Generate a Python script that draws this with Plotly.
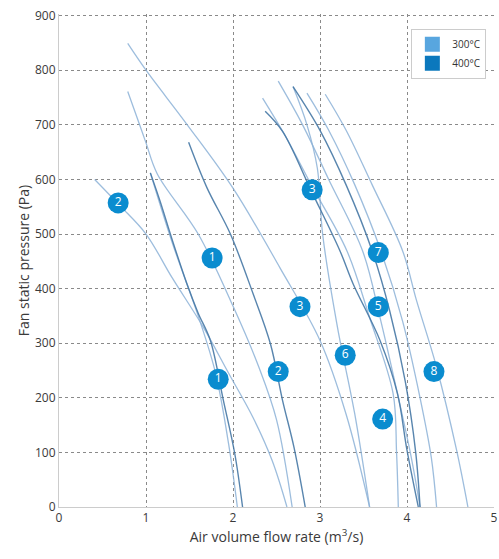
import plotly.graph_objects as go

# ---- data ----
# 300 °C curves (light)
c300_a_x = [0.79, 1.0, 1.47, 2.0, 2.54, 3.0, 3.3, 3.57]
c300_a_y = [849, 800, 701, 584, 438, 305, 170, 0]
c300_b_x = [0.41, 0.7, 1.0, 1.3, 1.66, 1.95, 2.23, 2.45, 2.62]
c300_b_y = [600, 552, 500, 420, 329, 245, 164, 85, 0]
c300_c_x = [0.79, 0.9, 1.0, 1.13, 1.6, 2.0, 2.3, 2.5, 2.68]
c300_c_y = [761, 712, 667, 610, 500, 368, 255, 160, 0]
c300_d_x = [1.05, 1.3, 1.6, 1.8, 1.95, 2.05]
c300_d_y = [612, 485, 350, 245, 115, 0]
c300_e_x = [2.34, 2.6, 2.9, 3.31, 3.57, 3.84, 3.88, 3.9]
c300_e_y = [749, 680, 590, 469, 347, 208, 100, 0]
c300_f_x = [2.52, 2.8, 3.1, 3.49, 3.69, 3.89, 4.05, 4.15]
c300_f_y = [780, 700, 600, 469, 347, 208, 90, 0]
c300_g_x = [2.69, 2.85, 2.97, 3.03, 3.2, 3.4, 3.57]
c300_g_y = [770, 700, 620, 500, 330, 170, 0]
c300_h_x = [2.85, 3.1, 3.4, 3.7, 3.95, 4.15, 4.28, 4.34]
c300_h_y = [758, 690, 590, 469, 340, 200, 90, 0]
c300_i_x = [3.06, 3.3, 3.6, 3.95, 4.11, 4.34, 4.57, 4.7]
c300_i_y = [756, 690, 590, 469, 378, 256, 104, 0]

# 400 °C curves (dark)
c400_a_x = [1.05, 1.16, 1.3, 1.47, 1.6, 1.74, 1.89, 2.02, 2.11]
c400_a_y = [612, 561, 490, 409, 355, 305, 195, 98, 0]
c400_b_x = [1.49, 1.7, 1.97, 2.23, 2.43, 2.57, 2.7, 2.83]
c400_b_y = [668, 585, 500, 391, 299, 195, 110, 0]
c400_c_x = [2.37, 2.57, 2.9, 3.23, 3.38, 3.69, 3.89, 4.0, 4.13]
c400_c_y = [725, 688, 579, 469, 409, 305, 208, 104, 0]
c400_d_x = [2.69, 3.0, 3.3, 3.6, 3.8, 3.98, 4.1, 4.15]
c400_d_y = [770, 690, 590, 469, 360, 230, 100, 0]

legend_names = ["300°C", "400°C"]
legend_colors = ["#58a6df", "#0b78bd"]

label_text = ["2", "1", "1", "2", "3", "3", "7", "5", "6", "8", "4"]
label_x = [0.68, 1.76, 1.83, 2.52, 2.91, 2.77, 3.67, 3.67, 3.29, 4.31, 3.72]
label_y = [557, 456, 234, 248, 581, 367, 466, 367, 278, 248, 161]

x_ticks = [0, 1, 2, 3, 4, 5]
y_ticks = [0, 100, 200, 300, 400, 500, 600, 700, 800, 900]

light_curves = [
    (c300_a_x, c300_a_y), (c300_b_x, c300_b_y), (c300_c_x, c300_c_y),
    (c300_d_x, c300_d_y), (c300_e_x, c300_e_y), (c300_f_x, c300_f_y),
    (c300_g_x, c300_g_y), (c300_h_x, c300_h_y), (c300_i_x, c300_i_y),
]
dark_curves = [
    (c400_a_x, c400_a_y), (c400_b_x, c400_b_y),
    (c400_c_x, c400_c_y), (c400_d_x, c400_d_y),
]

fig = go.Figure()

for xs, ys in light_curves:
    fig.add_trace(go.Scatter(x=xs, y=ys, mode="lines", line_shape="spline",
                             line=dict(color="rgba(140,178,215,0.85)", width=1.3),
                             showlegend=False, hoverinfo="skip"))
for xs, ys in dark_curves:
    fig.add_trace(go.Scatter(x=xs, y=ys, mode="lines", line_shape="spline",
                             line=dict(color="rgba(70,120,165,0.9)", width=1.4),
                             showlegend=False, hoverinfo="skip"))

# legend entries
for name, col in zip(legend_names, legend_colors):
    fig.add_trace(go.Scatter(x=[None], y=[None], mode="markers", name=name,
                             marker=dict(symbol="square", size=15, color=col)))

# numbered circle labels
fig.add_trace(go.Scatter(x=label_x, y=label_y, mode="markers+text", text=label_text,
                         textposition="middle center",
                         textfont=dict(family="Open Sans", size=12, color="white"),
                         marker=dict(size=21, color="#0a8ccf", line=dict(width=0)),
                         showlegend=False, hoverinfo="skip"))

grid = dict(showgrid=True, gridcolor="#8a8a8a", griddash="dot", gridwidth=1)

fig.update_layout(
    width=499, height=559,
    margin=dict(l=59, r=5, t=14, b=52),
    paper_bgcolor="white", plot_bgcolor="white",
    font=dict(family="Open Sans", color="#333333"),
    legend=dict(x=0.81, y=0.97, xanchor="left", yanchor="top",
                bordercolor="#cccccc", borderwidth=1, bgcolor="white",
                font=dict(size=10, color="#333333"), itemwidth=30,
                tracegroupgap=0),
    xaxis=dict(range=[0, 5], tickvals=x_ticks, ticks="", zeroline=False,
               automargin=False, ticklabeloverflow="allow",
               showline=True, linecolor="#cccccc", linewidth=1,
               tickfont=dict(size=12, color="#3a3a3a"),
               title=dict(text="Air volume flow rate (m<sup>3</sup>/s)",
                          font=dict(size=14, color="#3a3a3a"), standoff=6),
               **grid),
    yaxis=dict(range=[0, 903], tickvals=y_ticks, ticks="", zeroline=False,
               automargin=False, ticklabeloverflow="allow",
               showline=True, linecolor="#cccccc", linewidth=1,
               tickfont=dict(size=12, color="#3a3a3a"),
               title=dict(text="Fan static pressure (Pa)",
                          font=dict(size=14, color="#3a3a3a"), standoff=2),
               **grid),
)

fig.write_html("out.html", config={"displayModeBar": False},
               post_script="document.body.style.margin='0';")
